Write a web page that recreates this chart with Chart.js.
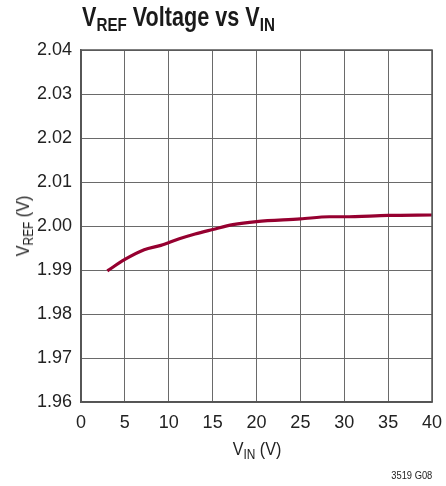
<!DOCTYPE html>
<html><head><meta charset="utf-8">
<script src="https://cdn.jsdelivr.net/npm/chart.js@4"></script>
<style>
html,body{margin:0;padding:0;background:#fff;}
#wrap{position:relative;width:446px;height:486px;overflow:hidden;}
canvas{position:absolute;left:0;top:0;}
.t{position:absolute;font-family:"Liberation Sans",Arial,sans-serif;color:#222;white-space:nowrap;}
#title{left:82px;top:2px;font-size:27px;font-weight:bold;color:#1a1a1a;transform:scaleX(0.8);transform-origin:0 0;}
#title sub{font-size:19px;vertical-align:-5px;line-height:0;}
#xt{left:257px;top:449px;font-size:19px;transform:translate(-50%,-50%) scaleX(0.85);}
#xt sub,#yt sub{font-size:14px;vertical-align:-4px;line-height:0;}
#yt{left:23px;top:226px;font-size:19px;transform:translate(-50%,-50%) rotate(-90deg) scaleX(0.85);}
#note{right:14px;top:469px;font-size:11px;transform:scaleX(0.85);transform-origin:100% 0;}
</style></head>
<body><div id="wrap">
<canvas id="c" width="446" height="486"></canvas>
<div class="t" id="title">V<sub>REF</sub> Voltage vs V<sub>IN</sub></div>
<div class="t" id="xt">V<sub>IN</sub> (V)</div>
<div class="t" id="yt">V<sub>REF</sub> (V)</div>
<div class="t" id="note">3519 G08</div>
</div>
<script>
const vin  = [3, 5, 7.2, 9.1, 11.2, 13, 15, 17.3, 20, 25, 28.3, 30, 35, 40];
const vref = [1.9898, 1.9924, 1.9946, 1.9956, 1.9971, 1.9982, 1.9992, 2.0003, 2.0010, 2.0016, 2.0021, 2.0021, 2.0024, 2.0025];
const xTicks = [0, 5, 10, 15, 20, 25, 30, 35, 40];
const yTicks = [1.96, 1.97, 1.98, 1.99, 2.00, 2.01, 2.02, 2.03, 2.04];

const font = {family: '"Liberation Sans",Arial,sans-serif', size: 18};
new Chart(document.getElementById('c'), {
  type: 'line',
  data: { datasets: [{
    data: vin.map((x, i) => ({x: x, y: vref[i]})),
    borderColor: '#960030', borderWidth: 3.2, pointRadius: 0,
    tension: 0.4, cubicInterpolationMode: 'monotone', fill: false
  }]},
  options: {
    responsive: false, animation: false, devicePixelRatio: 1,
    layout: {padding: {left: 0, right: 14, top: 50, bottom: 0}},
    plugins: {legend: {display: false}, tooltip: {enabled: false}, title: {display: false}},
    scales: {
      x: {
        type: 'linear', min: 0, max: 40,
        afterBuildTicks: a => { a.ticks = xTicks.map(v => ({value: v})); },
        afterFit: a => { a.height = 84; a.paddingLeft = 0; a.paddingRight = 0; },
        ticks: {font: font, color: '#222', padding: 10, maxRotation: 0,
          callback: v => String(v)},
        grid: {color: '#6a6a6a', lineWidth: 1, drawTicks: false},
        border: {color: '#555', width: 1.5}
      },
      y: {
        type: 'linear', min: 1.96, max: 2.04,
        afterBuildTicks: a => { a.ticks = yTicks.map(v => ({value: v})); },
        afterFit: a => { a.width = 81; a.paddingTop = 0; a.paddingBottom = 0; },
        ticks: {font: font, color: '#222', padding: 9,
          callback: v => Number(v).toFixed(2)},
        grid: {color: '#6a6a6a', lineWidth: 1, drawTicks: false},
        border: {color: '#555', width: 1.5}
      }
    }
  },
  plugins: [{
    id: 'frame',
    afterDraw(ch) {
      const {ctx, chartArea: a} = ch;
      ctx.save(); ctx.strokeStyle = '#555'; ctx.lineWidth = 1.5;
      ctx.strokeRect(a.left, a.top, a.right - a.left, a.bottom - a.top);
      ctx.restore();
    }
  }]
});
</script>
</body></html>
